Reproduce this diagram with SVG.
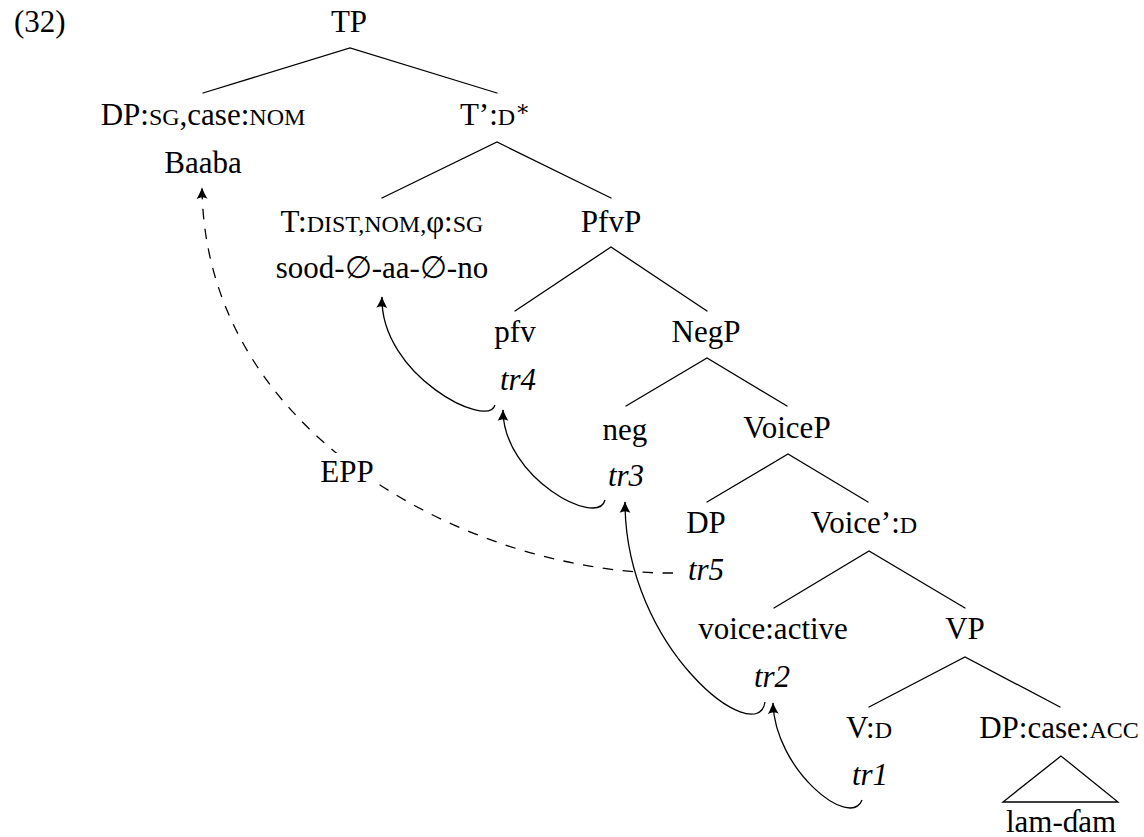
<svg xmlns="http://www.w3.org/2000/svg" width="1144" height="837" viewBox="0 0 1144 837">
  <style>
    .lbl { font-family: 'Liberation Serif', 'Times New Roman', 'DejaVu Serif', serif; font-size: 31px; fill: #000; text-anchor: middle; }
    .sc { font-size: 24px; }
    .tr { font-style: italic; }
    .edge { stroke: #000; stroke-width: 1.3; fill: none; stroke-linecap: round; }
    .move { stroke: #000; stroke-width: 1.3; fill: none; marker-end: url(#tip); }
    .dash { stroke-dasharray: 10.5 9.5; }
  </style>
  <defs>
    <marker id="tip" viewBox="-12 -7 14 14" refX="0" refY="0" markerWidth="14" markerHeight="14" markerUnits="userSpaceOnUse" orient="auto">
      <path d="M0.8,0 C-3,-1.2 -7.5,-3.5 -11,-5.5 C-9,-2.5 -9,2.5 -11,5.5 C-7.5,3.5 -3,1.2 0.8,0Z" fill="#000"/>
    </marker>
  </defs>

  <g font-family="Liberation Serif, Times New Roman, DejaVu Serif, serif">
  <text class="lbl" x="14" y="32" style="text-anchor:start">(32)</text>

  <!-- tree branches -->
  <g id="branches">
    <path class="edge" d="M203,93 L350,48 L497,93"/>
    <path class="edge" d="M382,198 L497,142 L611,198"/>
    <path class="edge" d="M515,311 L611,247 L707,311"/>
    <path class="edge" d="M626,406 L707,358 L787,406"/>
    <path class="edge" d="M707,502 L788,454 L868,502"/>
    <path class="edge" d="M774,608 L869,551 L965,608"/>
    <path class="edge" d="M869,707 L965,657 L1060,707"/>
    <path class="edge" d="M1061,756 L1003,802 L1118,802 Z" stroke-linejoin="miter"/>
  </g>

  <!-- movement arrows -->
  <g id="movement">
    <path class="move" d="M862,800 C850,830 775,770 773,703"/>
    <path class="move" d="M765,702 C758,750 625,650 625,502"/>
    <path class="move" d="M605,500 C598,528 503,478 503,410"/>
    <path class="move" d="M495,405 C488,430 380,375 382,297"/>
    <path class="move dash" d="M673,573 C480,575 205,440 202,188"/>
    <rect x="318" y="453" width="58" height="38" fill="#fff"/>
  </g>

  <g id="TP"><text class="lbl" x="349" y="32">TP</text></g>
  <g id="DP-nom">
    <text class="lbl" x="203" y="125">DP:<tspan class="sc">SG</tspan>,case:<tspan class="sc">NOM</tspan></text>
    <text class="lbl" x="203" y="173">Baaba</text>
  </g>
  <g id="Tbar"><text class="lbl" x="495" y="125">T’:<tspan class="sc">D</tspan><tspan font-size="22" dy="-9">∗</tspan></text></g>
  <g id="T">
    <text class="lbl" x="382" y="232">T:<tspan class="sc">DIST,NOM,</tspan>φ:<tspan class="sc">SG</tspan></text>
    <text class="lbl" x="382" y="278">sood-∅-aa-∅-no</text>
  </g>
  <g id="PfvP"><text class="lbl" x="611" y="232">PfvP</text></g>
  <g id="pfv">
    <text class="lbl" x="515" y="342">pfv</text>
    <text class="lbl tr" x="518" y="390">tr4</text>
  </g>
  <g id="NegP"><text class="lbl" x="706" y="342">NegP</text></g>
  <g id="neg">
    <text class="lbl" x="625" y="440">neg</text>
    <text class="lbl tr" x="626" y="486">tr3</text>
  </g>
  <g id="VoiceP"><text class="lbl" x="787" y="438">VoiceP</text></g>
  <g id="DP-spec">
    <text class="lbl" x="706" y="533">DP</text>
    <text class="lbl tr" x="706" y="580">tr5</text>
  </g>
  <g id="EPP"><text class="lbl" x="347" y="482">EPP</text></g>
  <g id="Voicebar"><text class="lbl" x="864" y="533">Voice’:<tspan class="sc">D</tspan></text></g>
  <g id="voice">
    <text class="lbl" x="773" y="639">voice:active</text>
    <text class="lbl tr" x="772" y="687">tr2</text>
  </g>
  <g id="VP"><text class="lbl" x="965" y="639">VP</text></g>
  <g id="V">
    <text class="lbl" x="869" y="738">V:<tspan class="sc">D</tspan></text>
    <text class="lbl tr" x="870" y="785">tr1</text>
  </g>
  <g id="DP-acc">
    <text class="lbl" x="1059" y="738">DP:case:<tspan class="sc">ACC</tspan></text>
    <text class="lbl" x="1061" y="832">lam-ɗam</text>
  </g>
  </g>
</svg>
